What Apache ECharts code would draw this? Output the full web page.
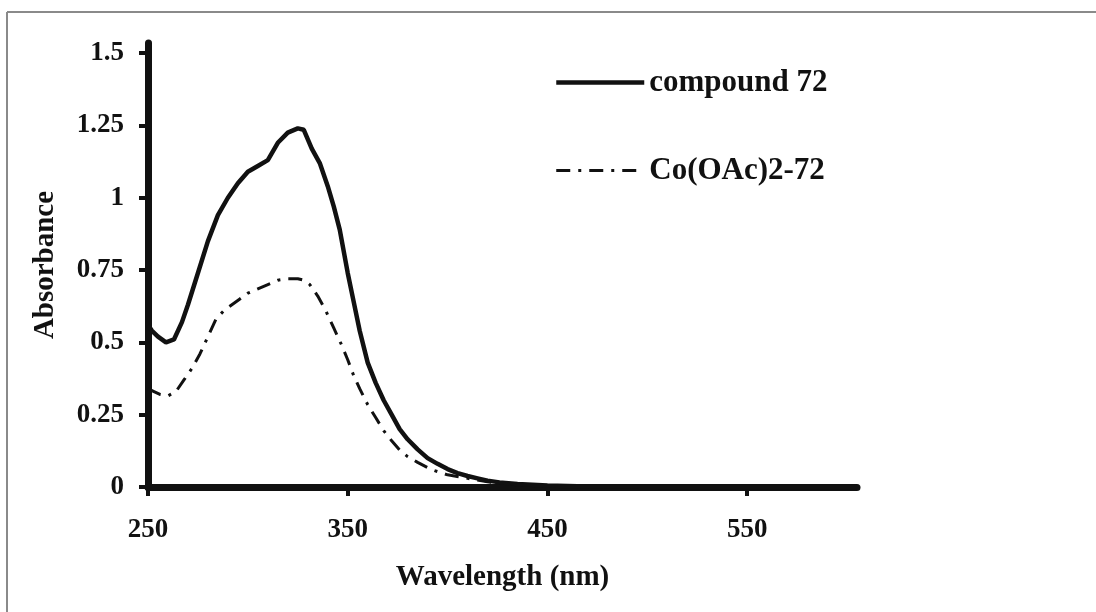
<!DOCTYPE html>
<html>
<head>
<meta charset="utf-8">
<script src="https://cdn.jsdelivr.net/npm/echarts@6/dist/echarts.min.js"></script>
<style>
html,body{margin:0;padding:0;background:#fff;}
#chart{width:1096px;height:612px;}
</style>
</head>
<body>
<div id="chart"></div>
<script>
// Wavelength (nm) and absorbance values
const compoundWavelength = [250,252,255,259,263,267,270,275,280,285,290,295,300,305,310,315,320,325,328,332,336,340,343,346,350,353,356,360,364,368,372,376,380,385,390,395,400,405,410,415,420,426,435,450,470,500,550,605];
const compoundAbsorbance = [0.56,0.54,0.52,0.50,0.51,0.57,0.63,0.74,0.85,0.94,1.00,1.05,1.09,1.11,1.13,1.19,1.225,1.24,1.235,1.17,1.12,1.04,0.97,0.89,0.74,0.64,0.54,0.43,0.36,0.30,0.25,0.20,0.165,0.13,0.10,0.08,0.062,0.048,0.038,0.03,0.022,0.016,0.01,0.005,0.002,0.001,0,0];

const coWavelength = [250,253,256,260,264,268,272,276,280,284,288,292,296,300,305,310,315,320,325,328,331,335,339,343,347,350,353,356,360,364,368,372,376,380,385,392,400,410,420,430,440,450,500,605];
const coAbsorbance = [0.34,0.33,0.32,0.315,0.33,0.37,0.41,0.46,0.52,0.58,0.61,0.63,0.65,0.67,0.685,0.70,0.715,0.72,0.72,0.715,0.70,0.66,0.61,0.55,0.49,0.44,0.385,0.34,0.285,0.24,0.195,0.16,0.128,0.105,0.085,0.06,0.042,0.03,0.018,0.01,0.005,0.002,0,0];

const seriesNames = ['compound 72', 'Co(OAc)2-72'];
const xTicks = [250, 350, 450, 550];
const yTicks = [0, 0.25, 0.5, 0.75, 1, 1.25, 1.5];
const xTitle = 'Wavelength (nm)';
const yTitle = 'Absorbance';

const pairs = (xs, ys) => xs.map((x, i) => [x, ys[i]]);
const FONT = '"Liberation Serif", "Times New Roman", serif';

const chart = echarts.init(document.getElementById('chart'), null, {renderer: 'canvas'});
chart.setOption({
  backgroundColor: '#fff',
  animation: false,
  graphic: [
    {type: 'line', shape: {x1: 7, y1: 12, x2: 1096, y2: 12}, style: {stroke: '#8a8a8a', lineWidth: 2}},
    {type: 'line', shape: {x1: 7, y1: 12, x2: 7, y2: 612}, style: {stroke: '#8a8a8a', lineWidth: 2}}
  ],
  grid: {left: 148, right: 239, top: 43, bottom: 125, containLabel: false},
  legend: {
    orient: 'vertical',
    left: 549,
    top: 62,
    itemWidth: 88,
    itemHeight: 4,
    itemGap: 57,
    itemStyle: {color: 'rgba(0,0,0,0)', borderWidth: 0, opacity: 0},
    textStyle: {fontFamily: FONT, fontWeight: 'bold', fontSize: 31, color: '#111'},
    data: [
      {name: seriesNames[0], lineStyle: {width: 4.5}},
      {name: seriesNames[1], lineStyle: {width: 3}}
    ]
  },
  xAxis: {
    type: 'value',
    min: 250,
    max: 605,
    name: xTitle,
    nameLocation: 'middle',
    nameGap: 76,
    nameTextStyle: {fontFamily: FONT, fontWeight: 'bold', fontSize: 29, color: '#111'},
    axisLine: {show: true, onZero: false, lineStyle: {color: '#111', width: 7}},
    axisTick: {show: true, customValues: xTicks, length: 9, lineStyle: {color: '#111', width: 4}},
    axisLabel: {customValues: xTicks, margin: 30, fontFamily: FONT, fontWeight: 'bold', fontSize: 27, color: '#111'},
    splitLine: {show: false}
  },
  yAxis: {
    type: 'value',
    min: 0,
    max: 1.535,
    name: yTitle,
    nameLocation: 'middle',
    nameGap: 88,
    nameTextStyle: {fontFamily: FONT, fontWeight: 'bold', fontSize: 29, color: '#111'},
    axisLine: {show: true, onZero: false, lineStyle: {color: '#111', width: 7}},
    axisTick: {show: true, customValues: yTicks, length: 9, lineStyle: {color: '#111', width: 4}},
    axisLabel: {customValues: yTicks, margin: 24, fontFamily: FONT, fontWeight: 'bold', fontSize: 27, color: '#111'},
    splitLine: {show: false}
  },
  series: [
    {
      name: seriesNames[0],
      type: 'line',
      data: pairs(compoundWavelength, compoundAbsorbance),
      showSymbol: false,
      symbol: 'none',
      smooth: false,
      z: 3,
      lineStyle: {color: '#111', width: 4.5, type: 'solid'},
      itemStyle: {color: '#111'}
    },
    {
      name: seriesNames[1],
      type: 'line',
      data: pairs(coWavelength, coAbsorbance),
      showSymbol: false,
      symbol: 'none',
      smooth: false,
      z: 2,
      lineStyle: {color: '#111', width: 3, type: [14, 8, 3, 8]},
      itemStyle: {color: '#111'}
    }
  ]
});
</script>
</body>
</html>
